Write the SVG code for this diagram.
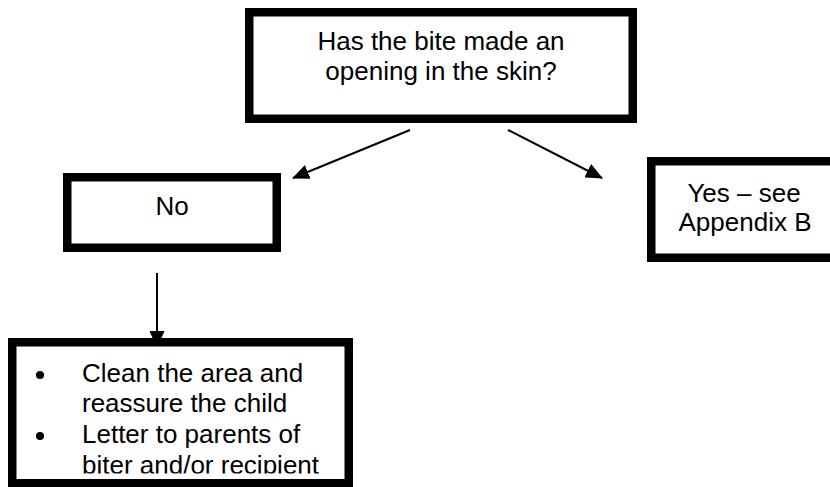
<svg xmlns="http://www.w3.org/2000/svg" width="830" height="487" viewBox="0 0 830 487">
<style>
.box{fill:#fff;stroke:#000;stroke-width:8.5}
.t{font-family:"Liberation Sans",Arial,sans-serif;font-size:26px;fill:#000}
.c{text-anchor:middle}
.ln{stroke:#000;stroke-width:2;fill:none}
</style>
<defs>
<marker id="ah" markerWidth="17" markerHeight="15" refX="16" refY="7.500" orient="auto" markerUnits="userSpaceOnUse">
<path d="M0,0 L17,7.500 L0,15 Z" fill="#000"/>
</marker>
<clipPath id="clipLast">
<rect x="0" y="0" width="830" height="473.500"/>
</clipPath>
</defs>
<rect width="830" height="487" fill="#fff"/>
<g id="connectors">
<line class="ln" x1="410" y1="130" x2="293" y2="178" marker-end="url(#ah)"/>
<line class="ln" x1="508" y1="130" x2="602" y2="178" marker-end="url(#ah)"/>
<line class="ln" x1="157" y1="273" x2="157" y2="347" marker-end="url(#ah)"/>
</g>
<g id="question">
<rect class="box" x="249.250" y="12.250" width="383.500" height="106.500"/>
<text class="t c" x="441" y="50">Has the bite made an</text>
<text class="t c" x="441" y="80">opening in the skin?</text>
</g>
<g id="no">
<rect class="box" x="67.250" y="177.250" width="209.500" height="70.500"/>
<text class="t c" x="172" y="215">No</text>
</g>
<g id="yes">
<rect class="box" x="651.250" y="161.250" width="186" height="96.500"/>
<text class="t c" x="744" y="202">Yes – see</text>
<text class="t c" x="745" y="231">Appendix B</text>
</g>
<g id="actions">
<rect class="box" x="12.250" y="342.250" width="336.500" height="141"/>
<circle cx="40" cy="375" r="4" fill="#000"/>
<circle cx="40" cy="436" r="4" fill="#000"/>
<text class="t" x="82" y="382">Clean the area and</text>
<text class="t" x="82" y="412">reassure the child</text>
<text class="t" x="82" y="443">Letter to parents of</text>
<text class="t" x="82" y="474" clip-path="url(#clipLast)">biter and/or recipient</text>
</g>
</svg>
